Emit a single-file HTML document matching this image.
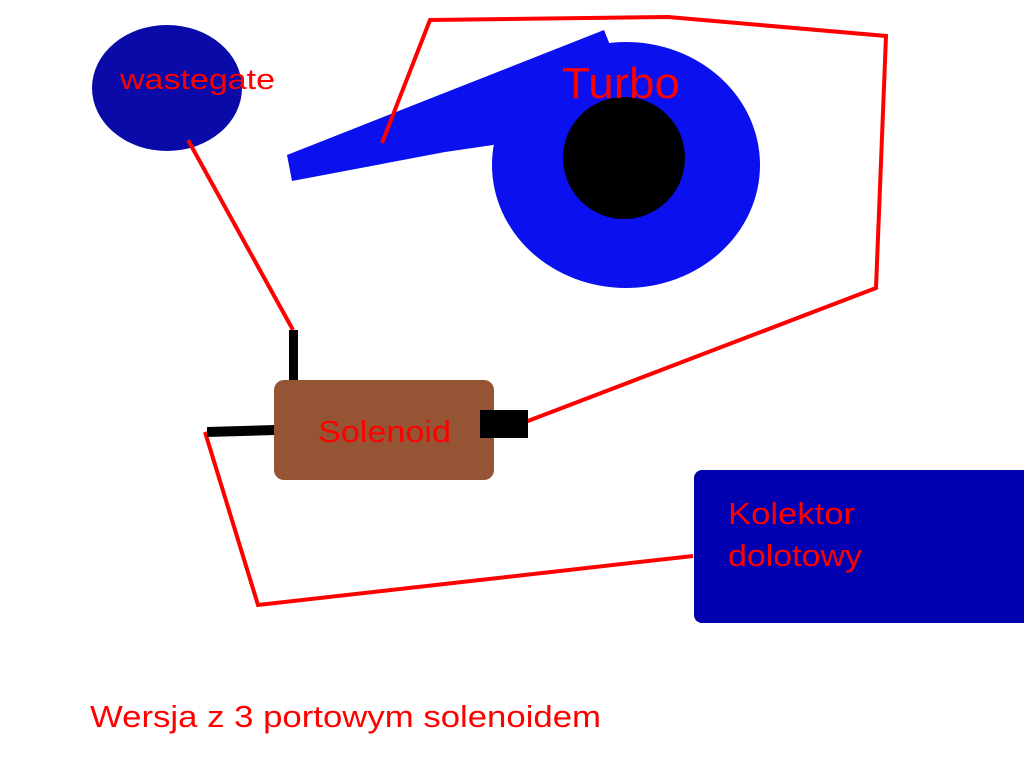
<!DOCTYPE html>
<html><head><meta charset="utf-8"><style>
html,body{margin:0;padding:0;background:#fff;}
svg{display:block;}
text{font-family:"Liberation Sans",sans-serif;fill:#f00;}
</style></head><body>
<svg width="1024" height="768" viewBox="0 0 1024 768" xmlns="http://www.w3.org/2000/svg">
<rect width="1024" height="768" fill="#fff"/>
<ellipse cx="167" cy="88" rx="75" ry="63" fill="#0a0aa8"/>
<text x="120" y="89" font-size="29" textLength="155" lengthAdjust="spacingAndGlyphs">wastegate</text>
<ellipse cx="626" cy="165" rx="134" ry="123" fill="#0a10ee"/>
<polygon points="287,155 604,30 612,50 540,118 493,145 445,152 292,181" fill="#0a10ee"/>
<circle cx="624" cy="158" r="61" fill="#000"/>
<text x="562" y="98" font-size="44" textLength="118" lengthAdjust="spacingAndGlyphs">Turbo</text>
<polyline points="382,143 430,20 668,17 886,36 876,288 520,424" fill="none" stroke="#f00" stroke-width="4"/>
<line x1="188" y1="140" x2="293" y2="330" stroke="#f00" stroke-width="4"/>
<polyline points="205,432 258,605 693,556" fill="none" stroke="#f00" stroke-width="4"/>
<rect x="289" y="330" width="9" height="52" fill="#000"/>
<polygon points="207,427 275,425 275,435 207,437" fill="#000"/>
<rect x="274" y="380" width="220" height="100" rx="10" fill="#955535"/>
<rect x="480" y="410" width="48" height="28" fill="#000"/>
<text x="318" y="442" font-size="31" textLength="133" lengthAdjust="spacingAndGlyphs">Solenoid</text>
<rect x="694" y="470" width="340" height="153" rx="8" fill="#0000b0"/>
<text x="728" y="524" font-size="31" textLength="127" lengthAdjust="spacingAndGlyphs">Kolektor</text>
<text x="728" y="566" font-size="31" textLength="134" lengthAdjust="spacingAndGlyphs">dolotowy</text>
<text x="90" y="727" font-size="31" textLength="511" lengthAdjust="spacingAndGlyphs">Wersja z 3 portowym solenoidem</text>
</svg>
</body></html>
